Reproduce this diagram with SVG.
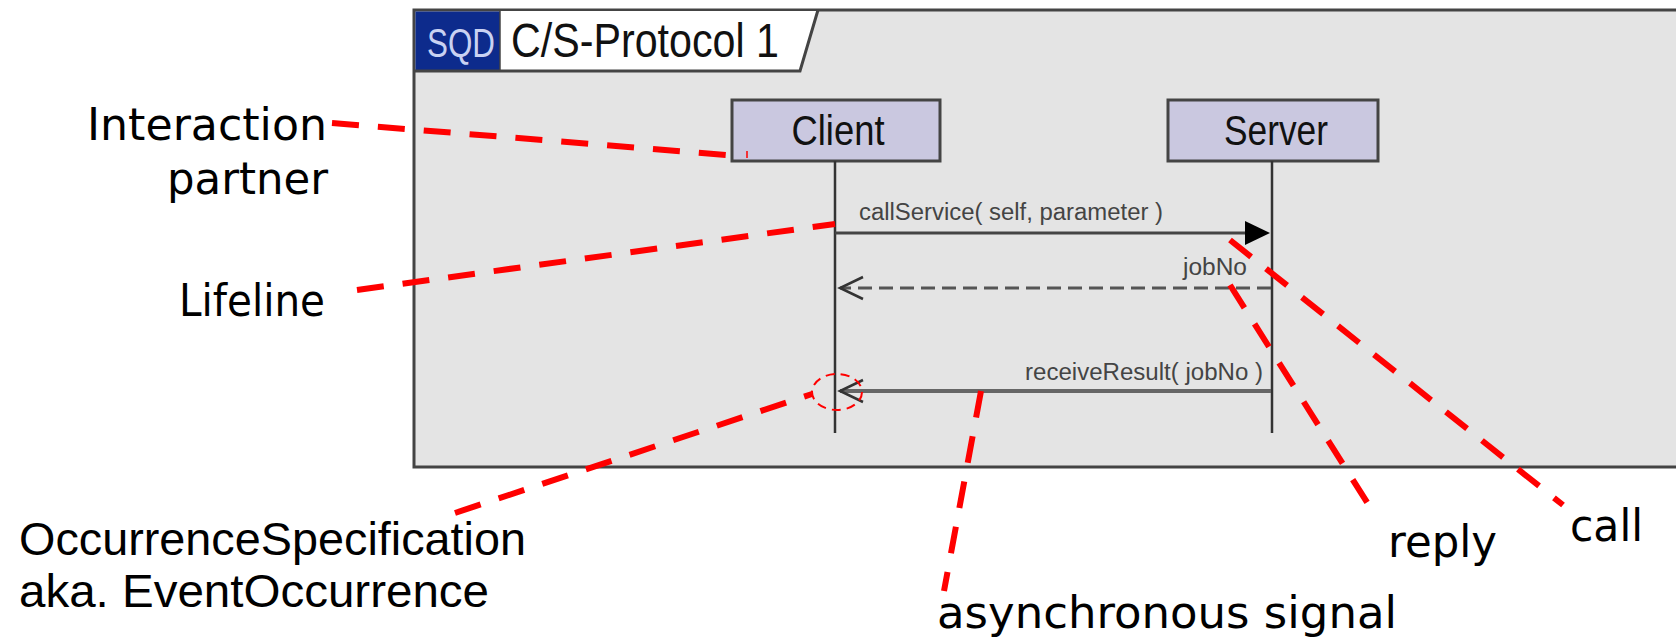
<svg xmlns="http://www.w3.org/2000/svg" width="1676" height="639" viewBox="0 0 1676 639">
  <defs>
    <style>
      .frame { fill: #e4e4e4; stroke: #444; stroke-width: 3; }
      .box { fill: #cac8e0; stroke: #444; stroke-width: 3; }
      .boxtext { font-family: "Liberation Sans", Arial, sans-serif; font-size: 42px; fill: #111; text-anchor: middle; }
      .lifeline { stroke: #333; stroke-width: 2.5; fill: none; }
      .msg { font-family: "Liberation Sans", Arial, sans-serif; font-size: 23px; fill: #444; }
      .note { font-family: "DejaVu Sans", "Noto Sans", sans-serif; font-size: 44px; fill: #000; }
      .note2 { font-family: "Liberation Sans", Arial, sans-serif; font-size: 46px; fill: #000; }
      .lead { stroke: #ff0000; stroke-width: 6; stroke-dasharray: 27 19; fill: none; }
    </style>
  </defs>

  <rect width="1676" height="639" fill="#ffffff"/>

  <g id="frame">
    <rect class="frame" x="414" y="10" width="1290" height="457"/>
    <polygon points="500,11 818,11 800,71 500,71" fill="#ffffff"/>
    <rect x="415.5" y="11.5" width="84.5" height="59.5" fill="#0d2b8c"/>
    <polyline points="414,71 800,71 818,10" fill="none" stroke="#444" stroke-width="3"/>
    <line x1="500" y1="11" x2="500" y2="71" stroke="#444" stroke-width="1.5"/>
    <text x="427" y="57" font-family="'Liberation Sans', Arial, sans-serif" font-size="40" fill="#c9d2f2" textLength="68" lengthAdjust="spacingAndGlyphs">SQD</text>
    <text x="511" y="57" font-family="'Liberation Sans', Arial, sans-serif" font-size="48" fill="#111" textLength="268" lengthAdjust="spacingAndGlyphs">C/S-Protocol 1</text>
  </g>

  <g id="node-client">
    <rect class="box" x="732" y="100" width="208" height="61"/>
    <text class="boxtext" x="838" y="145" textLength="93" lengthAdjust="spacingAndGlyphs">Client</text>
    <line class="lifeline" x1="835" y1="161" x2="835" y2="433"/>
  </g>

  <g id="node-server">
    <rect class="box" x="1168" y="100" width="210" height="61"/>
    <text class="boxtext" x="1276" y="145" textLength="104" lengthAdjust="spacingAndGlyphs">Server</text>
    <line class="lifeline" x1="1272" y1="161" x2="1272" y2="433"/>
  </g>

  <g id="connectors">
    <!-- call -->
    <line x1="835" y1="233" x2="1247" y2="233" stroke="#444" stroke-width="3"/>
    <polygon points="1245,221 1270,233 1245,245" fill="#000"/>
    <text class="msg" x="859" y="220" textLength="304" lengthAdjust="spacingAndGlyphs">callService( self, parameter )</text>
    <!-- reply -->
    <line x1="1271" y1="288" x2="840" y2="288" stroke="#555" stroke-width="3" stroke-dasharray="14 7"/>
    <polyline points="863,277 840,288 863,299" fill="none" stroke="#333" stroke-width="2.5"/>
    <text class="msg" x="1183" y="275" textLength="64" lengthAdjust="spacingAndGlyphs">jobNo</text>
    <!-- asynchronous signal -->
    <line x1="1271" y1="391" x2="840" y2="391" stroke="#666" stroke-width="4"/>
    <polyline points="863,380 840,391 863,402" fill="none" stroke="#333" stroke-width="2.5"/>
    <text class="msg" x="1025" y="380" textLength="238" lengthAdjust="spacingAndGlyphs">receiveResult( jobNo )</text>
  </g>

  <g id="annotations">
    <line class="lead" x1="332" y1="123" x2="727" y2="155"/>
    <line x1="747" y1="151" x2="747" y2="158" stroke="#ff0000" stroke-width="1.5"/>
    <line class="lead" x1="357" y1="290" x2="835" y2="224"/>
    <line class="lead" x1="455" y1="513" x2="812" y2="394"/>
    <ellipse cx="837" cy="392" rx="25" ry="18" fill="none" stroke="#ff0000" stroke-width="2" stroke-dasharray="9 6"/>
    <line class="lead" x1="981" y1="391" x2="944" y2="591"/>
    <line class="lead" x1="1230" y1="285" x2="1370" y2="507"/>
    <line class="lead" x1="1230" y1="240" x2="1563" y2="505"/>

    <text class="note" x="327" y="140" text-anchor="end" textLength="240" lengthAdjust="spacingAndGlyphs">Interaction</text>
    <text class="note" x="328" y="194" text-anchor="end" textLength="161" lengthAdjust="spacingAndGlyphs">partner</text>
    <text class="note" x="325" y="316" text-anchor="end" textLength="146" lengthAdjust="spacingAndGlyphs">Lifeline</text>
    <text class="note2" x="19" y="555" textLength="507" lengthAdjust="spacingAndGlyphs">OccurrenceSpecification</text>
    <text class="note2" x="19" y="607" textLength="470" lengthAdjust="spacingAndGlyphs">aka. EventOccurrence</text>
    <text class="note" x="937" y="628" font-size="43" textLength="460" lengthAdjust="spacingAndGlyphs">asynchronous signal</text>
    <text class="note" x="1388" y="557" textLength="109" lengthAdjust="spacingAndGlyphs">reply</text>
    <text class="note" x="1570" y="541" textLength="73" lengthAdjust="spacingAndGlyphs">call</text>
  </g>
</svg>
